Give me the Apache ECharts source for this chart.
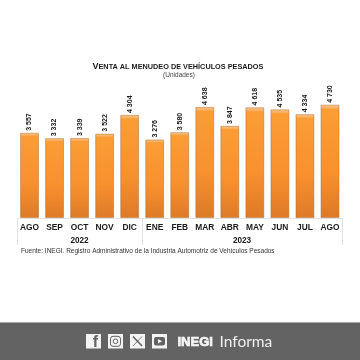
<!DOCTYPE html>
<html><head><meta charset="utf-8">
<style>html,body{margin:0;padding:0;background:#fff}#c{width:360px;height:360px}</style>
<script src="https://cdn.jsdelivr.net/npm/echarts@6/dist/echarts.min.js"></script>
</head><body><div id="c"></div>
<script>
const months=['AGO','SEP','OCT','NOV','DIC','ENE','FEB','MAR','ABR','MAY','JUN','JUL','AGO'];
const sales=[3557,3332,3339,3522,4304,3276,3580,4638,3847,4618,4535,4334,4730];
const labels=['3 557','3 332','3 339','3 522','4 304','3 276','3 580','4 638','3 847','4 618','4 535','4 334','4 730'];
const titleHead='V';
const titleTail='ENTA AL MENUDEO DE VEHÍCULOS PESADOS';
const subtitleText='(Unidades)';
const sourceText='Fuente: INEGI. Registro Administrativo de la Industria Automotriz de Vehículos Pesados';
const years=['2022','2023'];
const F='"Liberation Sans",Arial,sans-serif';
const chart=echarts.init(document.getElementById('c'),null,{renderer:'canvas'});
const axisLine=(x1,y1,x2,y2)=>({type:'line',silent:true,shape:{x1,y1,x2,y2},style:{stroke:'#e2e2e2',lineWidth:1}});
const txt=(x,y,t,o)=>({type:'text',x,y,silent:true,style:Object.assign({text:t,fontFamily:F,fill:'#1a1a1a',textAlign:'center',textVerticalAlign:'middle'},o)});
const G='#636363',W='#f4f4f4';
const icon=(x,ch)=>[{type:'rect',silent:true,shape:{x,y:334,width:15,height:14.5},style:{fill:W}}].concat(ch);
chart.setOption({
 animation:false,
 grid:{left:17,width:325.5,top:60,height:158},
 xAxis:{type:'category',data:months,axisTick:{show:false},axisLine:{show:false},
  axisLabel:{interval:0,margin:5.5,fontFamily:F,fontWeight:'bold',fontSize:8.4,color:'#1a1a1a'}},
 yAxis:{type:'value',min:0,max:6600,show:false,splitLine:{show:false}},
 series:[{type:'bar',data:sales,barWidth:18.7,
  itemStyle:{borderColor:'rgba(176,110,50,0.65)',borderWidth:0.8,
   color:new echarts.graphic.LinearGradient(0,0,0,1,[
    {offset:0,color:'#fdc98a'},{offset:0.025,color:'#fbb268'},{offset:0.04,color:'#fb9d35'},
    {offset:0.6,color:'#f8902e'},{offset:1,color:'#dd7a28'}])},
  label:{show:true,position:'top',rotate:90,distance:2,align:'left',verticalAlign:'middle',
   fontFamily:F,fontWeight:'bold',fontSize:7,color:'#1a1a1a',
   formatter:p=>labels[p.dataIndex]}}],
 graphic:[
  {type:'text',x:92.5,y:66.5,silent:true,style:{text:'{a|'+titleHead+'}{b|'+titleTail+'}',textAlign:'left',textVerticalAlign:'middle',
    rich:{a:{fontFamily:F,fontWeight:'bold',fontSize:9,fill:'#1a1a1a'},b:{fontFamily:F,fontWeight:'bold',fontSize:7.3,fill:'#1a1a1a'}}}},
  txt(179,75.7,subtitleText,{fontSize:6.5,fill:'#444'}),
  axisLine(17.5,218.5,342.5,218.5),
  axisLine(17.5,218,17.5,245),
  axisLine(142.5,218,142.5,245),
  axisLine(342.5,218,342.5,245),
  txt(79.5,240.3,years[0],{fontSize:8.2,fontWeight:'bold'}),
  txt(242,240.3,years[1],{fontSize:8.2,fontWeight:'bold'}),
  txt(21,251.3,sourceText,{fontSize:6.5,textAlign:'left',fill:'#333'}),
  {type:'rect',silent:true,shape:{x:0,y:323,width:360,height:37},style:{fill:G}},
  {type:'rect',silent:true,shape:{x:0,y:322,width:360,height:1},style:{fill:'#a8a8a8'}},
  ...icon(86,[txt(95.5,342.5,'f',{fontSize:16,fontWeight:'bold',fill:G})]),
  ...icon(108,[{type:'rect',silent:true,shape:{x:110.5,y:336.3,width:10,height:10,r:2.5},style:{fill:'none',stroke:G,lineWidth:1}},
               {type:'circle',silent:true,shape:{cx:115.5,cy:341.3,r:2.3},style:{fill:'none',stroke:G,lineWidth:1}}]),
  ...icon(130,[{type:'line',silent:true,shape:{x1:133,y1:336.5,x2:142,y2:346},style:{stroke:G,lineWidth:1.6}},
               {type:'line',silent:true,shape:{x1:142,y1:336.5,x2:133,y2:346},style:{stroke:G,lineWidth:0.8}}]),
  ...icon(152,[{type:'rect',silent:true,shape:{x:154,y:337,width:11,height:8.5,r:2},style:{fill:G}},
               {type:'polygon',silent:true,shape:{points:[[158,339],[158,343.5],[162,341.2]]},style:{fill:W}}]),
  txt(177.5,342,'INEGI',{fontSize:13,fontWeight:'bold',fill:W,stroke:W,lineWidth:0.7,textAlign:'left'}),
  txt(219.5,342,'Informa',{fontSize:15.5,fill:'#f0f0f0',textAlign:'left',fontFamily:'Lato,sans-serif'})
 ]
});
</script></body></html>
